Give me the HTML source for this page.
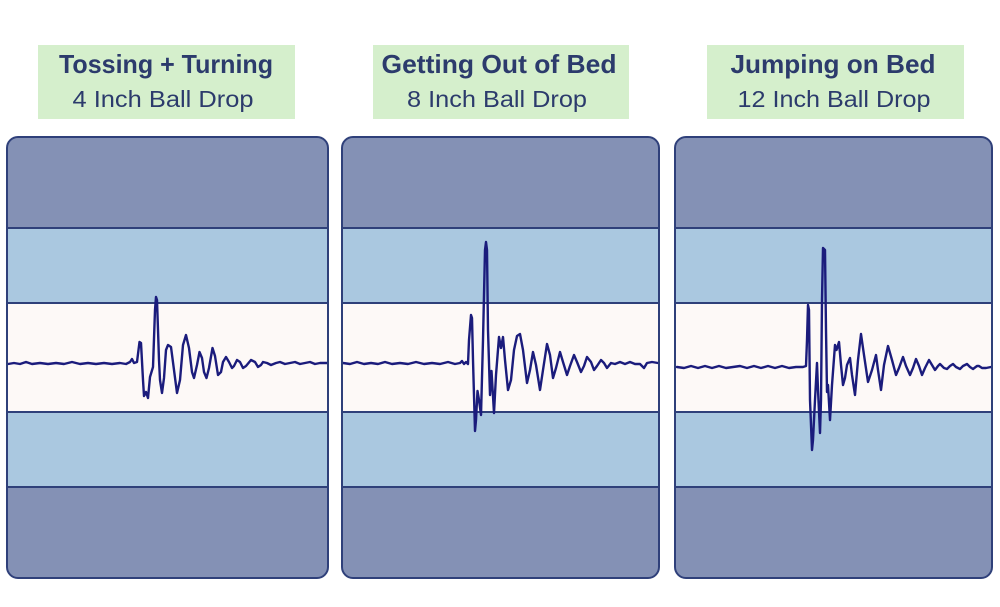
<!DOCTYPE html>
<html>
<head>
<meta charset="utf-8">
<style>
  html,body{margin:0;padding:0;background:#ffffff;}
  svg{display:block;}
  .t{font-family:"Liberation Sans",sans-serif;font-weight:700;fill:#2c3b6c;}
  .s{font-family:"Liberation Sans",sans-serif;font-weight:400;fill:#2c3b6c;}
</style>
</head>
<body>
<svg width="1000" height="607" viewBox="0 0 1000 607" xmlns="http://www.w3.org/2000/svg">
  <rect x="0" y="0" width="1000" height="607" fill="#ffffff"/>

  <!-- Title boxes -->
  <rect x="38" y="45" width="257" height="74" fill="#d5efcc"/>
  <rect x="373" y="45" width="256" height="74" fill="#d5efcc"/>
  <rect x="707" y="45" width="257" height="74" fill="#d5efcc"/>

  <text class="t" x="166" y="73" font-size="26" text-anchor="middle" textLength="214" lengthAdjust="spacingAndGlyphs">Tossing + Turning</text>
  <text class="s" x="163" y="107" font-size="23" text-anchor="middle" textLength="181" lengthAdjust="spacingAndGlyphs">4 Inch Ball Drop</text>

  <text class="t" x="499" y="73" font-size="26" text-anchor="middle" textLength="235" lengthAdjust="spacingAndGlyphs">Getting Out of Bed</text>
  <text class="s" x="497" y="107" font-size="23" text-anchor="middle" textLength="180" lengthAdjust="spacingAndGlyphs">8 Inch Ball Drop</text>

  <text class="t" x="833" y="73" font-size="26" text-anchor="middle" textLength="205" lengthAdjust="spacingAndGlyphs">Jumping on Bed</text>
  <text class="s" x="834" y="107" font-size="23" text-anchor="middle" textLength="193" lengthAdjust="spacingAndGlyphs">12 Inch Ball Drop</text>

  <!-- Panel 1 -->
  <g>
    <rect x="7" y="137" width="321" height="441" rx="11" ry="11" fill="#8491b5"/>
    <rect x="8" y="228" width="319" height="259" fill="#aac8e0"/>
    <rect x="8" y="303" width="319" height="109" fill="#fdf9f7"/>
    <line x1="7" y1="228" x2="328" y2="228" stroke="#2f407a" stroke-width="2"/>
    <line x1="7" y1="303" x2="328" y2="303" stroke="#2f407a" stroke-width="2"/>
    <line x1="7" y1="412" x2="328" y2="412" stroke="#2f407a" stroke-width="2"/>
    <line x1="7" y1="487" x2="328" y2="487" stroke="#2f407a" stroke-width="2"/>
    <polyline fill="none" stroke="#1b1c7c" stroke-width="2.4" stroke-linejoin="round" stroke-linecap="round"
      points="8,364 14,363 20,364 26,362 32,364 40,363 48,364 56,363 64,364 72,362 80,364 88,363 96,364 104,363 112,364 120,363 126,364 130,362 132,359 134,363 137,362 139.5,342 141,343 143,380 144,396 146,392 148,398 150,377 153,367 155,310 156,297 157,300 159,360 160,380 162,393 164,378 166,350 168,345 171,347 174,370 177,393 180,380 183,345 186,335 189,348 192,372 194,378 197,365 199.5,352 202,358 204,372 206.5,378 209,368 212.5,348 215,356 218,375 221,372 223,362 226,357 229,362 232,368 234,366 237,360 240,362 243,368 246,366 251,360 255,362 258,367 261,365 263,362 267,363 271,365 276,363 280,362 285,364 290,363 295,362 300,364 305,363 310,362 315,364 320,363 327,363"/>
    <rect x="7" y="137" width="321" height="441" rx="11" ry="11" fill="none" stroke="#2f407a" stroke-width="2"/>
  </g>

  <!-- Panel 2 -->
  <g>
    <rect x="342" y="137" width="317" height="441" rx="11" ry="11" fill="#8491b5"/>
    <rect x="343" y="228" width="315" height="259" fill="#aac8e0"/>
    <rect x="343" y="303" width="315" height="109" fill="#fdf9f7"/>
    <line x1="342" y1="228" x2="659" y2="228" stroke="#2f407a" stroke-width="2"/>
    <line x1="342" y1="303" x2="659" y2="303" stroke="#2f407a" stroke-width="2"/>
    <line x1="342" y1="412" x2="659" y2="412" stroke="#2f407a" stroke-width="2"/>
    <line x1="342" y1="487" x2="659" y2="487" stroke="#2f407a" stroke-width="2"/>
    <polyline fill="none" stroke="#1b1c7c" stroke-width="2.4" stroke-linejoin="round" stroke-linecap="round"
      points="343,363 350,364 357,362 364,364 371,363 378,364 385,362 392,364 400,363 408,364 416,362 424,364 432,363 440,364 448,362 455,364 460,363 462,361 464,364 466,362 468,364 469,340 471,315 472,318 473,360 475,431 476,420 477.5,391 479,400 481,415 483,340 485,250 486,242 487,250 488,330 490,395 491.5,371 494,413 496,375 499,337 501,348 503,337 505,360 508,390 511,380 514,350 517,336 520,334 523,350 527,383 530,370 533,352 536,365 540,390 543,370 547,344 550,355 553,378 556,368 560,352 563,362 567,375 570,366 574,355 577,362 581,372 584,366 587,357 591,362 594,370 597,366 601,360 604,363 607,368 611,363 615,364 620,362 625,364 630,362 635,364 640,364 644,368 647,363 652,362 658,363"/>
    <rect x="342" y="137" width="317" height="441" rx="11" ry="11" fill="none" stroke="#2f407a" stroke-width="2"/>
  </g>

  <!-- Panel 3 -->
  <g>
    <rect x="675" y="137" width="317" height="441" rx="11" ry="11" fill="#8491b5"/>
    <rect x="676" y="228" width="315" height="259" fill="#aac8e0"/>
    <rect x="676" y="303" width="315" height="109" fill="#fdf9f7"/>
    <line x1="675" y1="228" x2="992" y2="228" stroke="#2f407a" stroke-width="2"/>
    <line x1="675" y1="303" x2="992" y2="303" stroke="#2f407a" stroke-width="2"/>
    <line x1="675" y1="412" x2="992" y2="412" stroke="#2f407a" stroke-width="2"/>
    <line x1="675" y1="487" x2="992" y2="487" stroke="#2f407a" stroke-width="2"/>
    <polyline fill="none" stroke="#1b1c7c" stroke-width="2.4" stroke-linejoin="round" stroke-linecap="round"
      points="677,367 684,368 691,366 698,368 705,366 712,368 719,366 726,368 733,367 740,366 747,368 754,366 761,368 768,366 775,368 782,366 789,368 796,367 803,367 806,366 807,340 808,305 809,310 810,400 812,450 813,440 815,400 817,363 818,390 820,433 821,400 822,300 823,248 825,250 826,330 827,392 828,385 830,420 832,385 835,345 836.5,350 839,342 841,365 843,385 845,378 847,365 850,358 852,375 855,395 858,360 861,334 864,355 868,382 872,370 876,355 878,370 881,390 884,365 888,346 892,360 896,375 899,368 903,357 906,366 910,375 913,368 916,359 919,366 922,375 925,368 929,360 932,365 935,370 938,366 940,364 944,368 947,369 950,366 953,364 956,367 960,369 963,366 967,364 970,367 973,369 977,366 979,366 982,368 986,368 991,367"/>
    <rect x="675" y="137" width="317" height="441" rx="11" ry="11" fill="none" stroke="#2f407a" stroke-width="2"/>
  </g>
</svg>
</body>
</html>
